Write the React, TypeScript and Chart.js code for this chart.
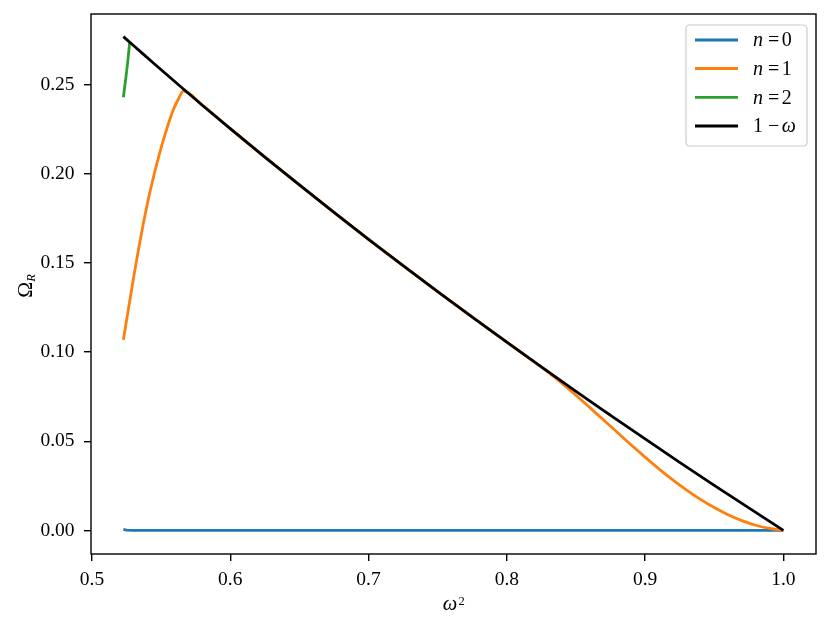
import React, { useEffect, useRef } from "react";
import { Chart, registerables } from "chart.js";

Chart.register(...registerables);

// n = 0
const n0X = [0.5227, 0.525, 0.53, 0.6, 0.7, 0.8, 0.9, 1.0];
const n0Y = [0.0006, 0.0002, 0.0, 0.0, 0.0, 0.0, 0.0, 0.0];

// n = 1
const n1X = [0.5227, 0.5263, 0.5299, 0.5335, 0.5371, 0.5408, 0.5444, 0.548, 0.5516, 0.5552, 0.5588, 0.5625, 0.5661, 0.58, 0.6, 0.65, 0.7, 0.75, 0.8, 0.82, 0.83, 0.84, 0.85, 0.86, 0.87, 0.88, 0.89, 0.9, 0.91, 0.92, 0.93, 0.94, 0.95, 0.96, 0.97, 0.98, 0.99, 1.0];
const n1Y = [0.107, 0.124, 0.141, 0.157, 0.172, 0.186, 0.198, 0.209, 0.219, 0.228, 0.236, 0.242, 0.2465, 0.2384, 0.2254, 0.1938, 0.1633, 0.134, 0.1056, 0.0944, 0.0887, 0.0825, 0.0758, 0.0689, 0.0619, 0.0549, 0.0479, 0.0411, 0.0345, 0.0283, 0.0226, 0.0174, 0.0128, 0.0088, 0.0055, 0.0029, 0.0011, 0.0];

// n = 2
const n2X = [0.5227, 0.5236, 0.5245, 0.526, 0.5272];
const n2Y = [0.243, 0.2485, 0.254, 0.264, 0.2735];

// 1 - omega
const bX = [0.5227, 0.53, 0.54, 0.55, 0.5661, 0.58, 0.6, 0.625, 0.65, 0.675, 0.7, 0.725, 0.75, 0.775, 0.8, 0.825, 0.85, 0.875, 0.9, 0.925, 0.95, 0.975, 1.0];
const bY = [0.277, 0.272, 0.2652, 0.2584, 0.2476, 0.2384, 0.2254, 0.2094, 0.1938, 0.1784, 0.1633, 0.1485, 0.134, 0.1197, 0.1056, 0.0917, 0.078, 0.0646, 0.0513, 0.0382, 0.0253, 0.0126, 0.0];

const xTicks = [0.5, 0.6, 0.7, 0.8, 0.9, 1.0];
const yTicks = [0.0, 0.05, 0.1, 0.15, 0.2, 0.25];

const legendLabels = [
  [{ t: "n", i: true }, { t: "=", i: false }, { t: "0", i: false }],
  [{ t: "n", i: true }, { t: "=", i: false }, { t: "1", i: false }],
  [{ t: "n", i: true }, { t: "=", i: false }, { t: "2", i: false }],
  [{ t: "1", i: false }, { t: "\u2212", i: false }, { t: "\u03c9", i: true }],
];
const colors = ["#1f77b4", "#ff7f0e", "#2ca02c", "#000000"];

const FONT = "'Liberation Serif', 'Times New Roman', serif";
const FS = 19.5;

const zip = (xs: number[], ys: number[]) => xs.map((x, i) => ({ x, y: ys[i] }));

const decorPlugin = {
  id: "decor",
  afterDatasetsDraw(chart: any) {
    const ctx = chart.ctx;
    const a = chart.chartArea;
    ctx.save();
    ctx.strokeStyle = "#000";
    ctx.lineWidth = 1.4;
    ctx.strokeRect(a.left, a.top, a.right - a.left, a.bottom - a.top);
    ctx.restore();
  },
  afterDraw(chart: any) {
    const ctx = chart.ctx;
    const a = chart.chartArea;
    ctx.save();
    // x-axis title: omega^2
    ctx.fillStyle = "#000";
    ctx.textBaseline = "alphabetic";
    ctx.textAlign = "left";
    const supFS = 12.5;
    ctx.font = `italic ${FS + 1}px ${FONT}`;
    const cx = (a.left + a.right) / 2;
    const wO = ctx.measureText("\u03c9").width;
    ctx.font = `${supFS}px ${FONT}`;
    const w2 = ctx.measureText("2").width;
    const startX = cx - (wO + w2 + 1) / 2;
    ctx.font = `italic ${FS + 1}px ${FONT}`;
    ctx.fillText("\u03c9", startX, 610);
    ctx.font = `${supFS}px ${FONT}`;
    ctx.fillText("2", startX + wO + 1.5, 605);

    // y-axis title: Omega_R rotated
    ctx.save();
    ctx.translate(31.5, (a.top + a.bottom) / 2 + 2);
    ctx.rotate(-Math.PI / 2);
    ctx.font = `${FS + 2}px ${FONT}`;
    const wOm = ctx.measureText("\u03a9").width;
    ctx.font = `italic ${supFS}px ${FONT}`;
    const wR = ctx.measureText("R").width;
    const sx = -(wOm + wR) / 2;
    ctx.font = `${FS + 2}px ${FONT}`;
    ctx.fillText("\u03a9", sx, 0);
    ctx.font = `italic ${supFS}px ${FONT}`;
    ctx.fillText("R", sx + wOm, 3);
    ctx.restore();

    // legend
    const lx = 686, ly = 25, lw = 121, lh = 121, r = 4;
    ctx.beginPath();
    ctx.moveTo(lx + r, ly);
    ctx.lineTo(lx + lw - r, ly);
    ctx.quadraticCurveTo(lx + lw, ly, lx + lw, ly + r);
    ctx.lineTo(lx + lw, ly + lh - r);
    ctx.quadraticCurveTo(lx + lw, ly + lh, lx + lw - r, ly + lh);
    ctx.lineTo(lx + r, ly + lh);
    ctx.quadraticCurveTo(lx, ly + lh, lx, ly + lh - r);
    ctx.lineTo(lx, ly + r);
    ctx.quadraticCurveTo(lx, ly, lx + r, ly);
    ctx.closePath();
    ctx.fillStyle = "rgba(255,255,255,0.8)";
    ctx.fill();
    ctx.strokeStyle = "#cccccc";
    ctx.lineWidth = 1.2;
    ctx.stroke();

    const rows = [40, 68.5, 97.3, 126];
    const gaps = [5, 2.5, 0];
    rows.forEach((ry, k) => {
      ctx.strokeStyle = colors[k];
      ctx.lineWidth = 2.8;
      ctx.beginPath();
      ctx.moveTo(695, ry);
      ctx.lineTo(738, ry);
      ctx.stroke();
      ctx.fillStyle = "#000";
      ctx.textBaseline = "middle";
      let tx = 753;
      legendLabels[k].forEach((seg, j) => {
        ctx.font = `${seg.i ? "italic " : ""}${FS + 0.5}px ${FONT}`;
        ctx.fillText(seg.t, tx, ry + 1);
        tx += ctx.measureText(seg.t).width + gaps[j];
      });
    });
    ctx.restore();
  },
};

export default function App() {
  const ref = useRef<HTMLCanvasElement | null>(null);
  useEffect(() => {
    if (!ref.current) return;
    const mk = (label: string, xs: number[], ys: number[], color: string, order: number, smooth: boolean) => ({
      label,
      data: zip(xs, ys),
      borderColor: color,
      backgroundColor: color,
      borderWidth: 2.8,
      pointRadius: 0,
      fill: false,
      tension: 0,
      cubicInterpolationMode: smooth ? "monotone" : "default",
      borderJoinStyle: "round",
      borderCapStyle: "butt",
      order,
    });
    const chart = new Chart(ref.current, {
      type: "line",
      data: {
        datasets: [
          mk("n=0", n0X, n0Y, colors[0], 3, false),
          mk("n=1", n1X, n1Y, colors[1], 2, true),
          mk("n=2", n2X, n2Y, colors[2], 1, true),
          mk("1-\u03c9", bX, bY, colors[3], 0, true),
        ],
      },
      options: {
        animation: false,
        responsive: true,
        maintainAspectRatio: false,
        layout: { padding: { left: 0, right: 15, top: 14, bottom: 0 } },
        plugins: { legend: { display: false }, tooltip: { enabled: false } },
        scales: {
          x: {
            type: "linear",
            min: 0.49928,
            max: 1.0236,
            border: { display: false },
            grid: { drawOnChartArea: false, drawTicks: true, tickLength: 7, color: "#000", lineWidth: 1.4 },
            ticks: {
              color: "#000",
              padding: 7,
              font: { family: FONT, size: FS },
              maxRotation: 0,
              callback: (v: any) => Number(v).toFixed(1),
            },
            afterBuildTicks: (scale: any) => {
              scale.ticks = xTicks.map((v) => ({ value: v }));
            },
            afterFit: (scale: any) => {
              scale.height = 77;
              scale.paddingLeft = 0;
              scale.paddingRight = 0;
            },
          },
          y: {
            type: "linear",
            min: -0.01324,
            max: 0.2897,
            border: { display: false },
            grid: { drawOnChartArea: false, drawTicks: true, tickLength: 7, color: "#000", lineWidth: 1.4 },
            ticks: {
              color: "#000",
              padding: 9.5,
              font: { family: FONT, size: FS },
              callback: (v: any) => Number(v).toFixed(2),
            },
            afterBuildTicks: (scale: any) => {
              scale.ticks = yTicks.map((v) => ({ value: v }));
            },
            afterFit: (scale: any) => {
              scale.width = 91;
              scale.paddingTop = 0;
              scale.paddingBottom = 0;
            },
          },
        },
      } as any,
      plugins: [decorPlugin],
    });
    return () => chart.destroy();
  }, []);
  return (
    <div style={{ position: "absolute", left: 0, top: 0, width: 831, height: 631, background: "#fff" }}>
      <canvas ref={ref} />
    </div>
  );
}
